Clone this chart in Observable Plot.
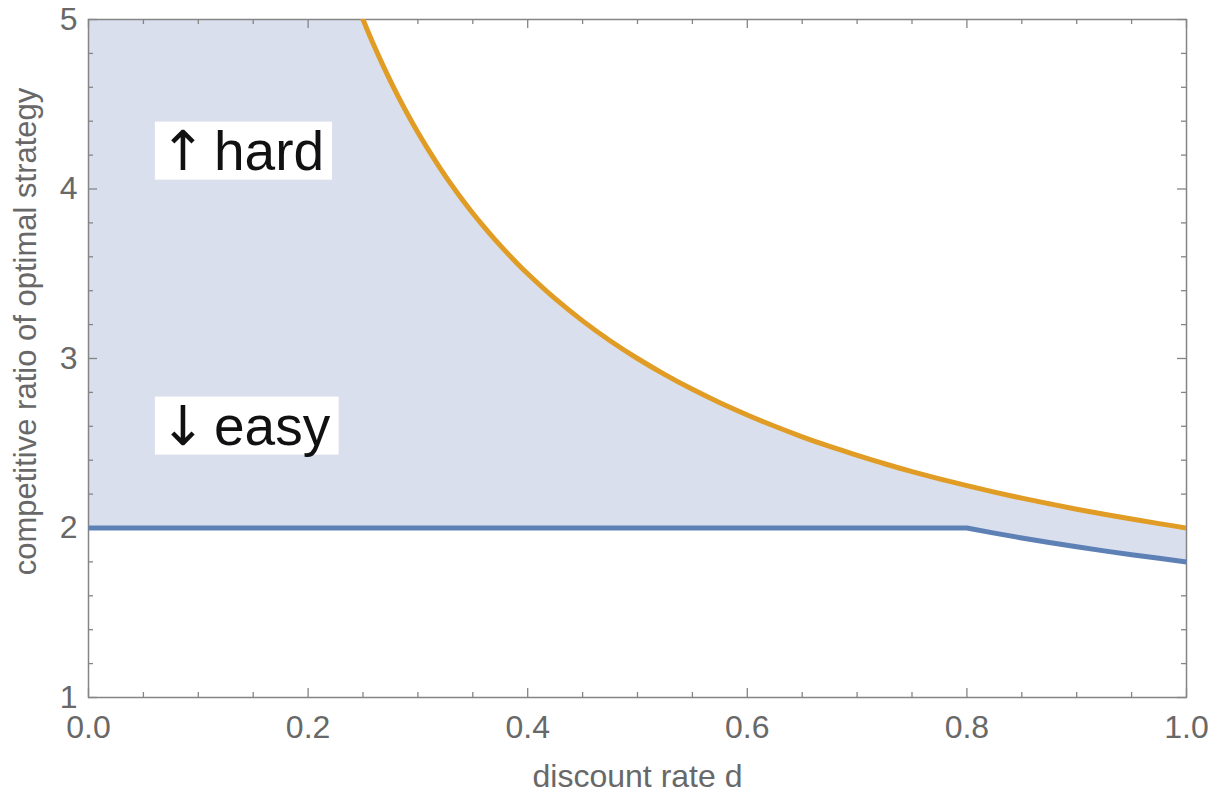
<!DOCTYPE html>
<html><head><meta charset="utf-8">
<script src="https://cdn.jsdelivr.net/npm/d3@7"></script>
<script src="https://cdn.jsdelivr.net/npm/@observablehq/plot@0.6"></script>
<style>body{margin:0;background:#fff}</style>
</head><body><div id="chart"></div>
<script>
// Upper curve (orange)
const orangeD = [0.25,0.26,0.27,0.28,0.29,0.30,0.31,0.32,0.33,0.34,0.35,0.36,0.37,0.38,0.39,0.40,
  0.425,0.45,0.475,0.50,0.525,0.55,0.575,0.60,0.625,0.65,0.675,0.70,0.725,0.75,0.775,0.80,
  0.825,0.85,0.875,0.90,0.925,0.95,0.975,1.00];
const orangeV = [5.000,4.846,4.704,4.571,4.448,4.333,4.226,4.125,4.030,3.941,3.857,3.778,3.703,3.632,3.564,3.500,
  3.353,3.222,3.105,3.000,2.905,2.818,2.739,2.667,2.600,2.538,2.481,2.429,2.379,2.333,2.290,2.250,
  2.212,2.176,2.143,2.111,2.081,2.053,2.026,2.000];
// Lower curve (blue)
const blueD = [0, 0.80, 0.825, 0.85, 0.875, 0.90, 0.925, 0.95, 0.975, 1.00];
const blueV = [2, 2.000, 1.970, 1.941, 1.914, 1.889, 1.865, 1.842, 1.821, 1.800];
// Shaded region top edge before the orange curve enters the frame
const fillLeftD = [0, 0.25];
const fillLeftV = [5, 5];
// Axes
const xDomain = [0, 1];
const yDomain = [1, 5];
const xMajor = [0, 0.2, 0.4, 0.6, 0.8, 1.0];
const xMinor = [0.05,0.10,0.15,0.25,0.30,0.35,0.45,0.50,0.55,0.65,0.70,0.75,0.85,0.90,0.95];
const yMajor = [1, 2, 3, 4, 5];
const yMinor = [1.2,1.4,1.6,1.8,2.2,2.4,2.6,2.8,3.2,3.4,3.6,3.8,4.2,4.4,4.6,4.8];
const xLabel = "discount rate d";
const yLabel = "competitive ratio of optimal strategy";
// Annotations
const noteText = ["↑hard", "↓easy"];
const noteD = [0.065, 0.065];
const noteV = [4.218, 2.596];

const orange = orangeD.map((d, i) => ({d, v: orangeV[i]}));
const blue = blueD.map((d, i) => ({d, v: blueV[i]}));
const fillTop = fillLeftD.map((d, i) => ({d, v: fillLeftV[i]})).concat(orange.slice(1));
const notes = noteText.map((t, i) => ({t, d: noteD[i], v: noteV[i]}));

const W = 1222, H = 801, mL = 88, mR = 36, mT = 19, mB = 104;
const pW = W - mL - mR, pH = H - mT - mB;
const gray = "#686868", frameC = "#858585";
const FONT = "'Liberation Sans', Arial, Helvetica, sans-serif";

const chart = Plot.plot({
  width: W, height: H,
  marginLeft: mL, marginRight: mR, marginTop: mT, marginBottom: mB,
  style: {fontFamily: FONT, background: "white"},
  x: {domain: xDomain},
  y: {domain: yDomain},
  marks: [
    Plot.areaY(fillTop, {x: "d", y1: yDomain[0], y2: "v", fill: "#dadfed", curve: "monotone-x", clip: true}),
    Plot.areaY(blue, {x: "d", y1: yDomain[0], y2: "v", fill: "white", clip: true}),
    Plot.frame({stroke: frameC, strokeWidth: 1.5}),
    // bottom ticks
    Plot.tickX(xMajor, {x: d => d, stroke: frameC, strokeWidth: 1.3, insetTop: pH - 9}),
    Plot.tickX(xMinor, {x: d => d, stroke: frameC, strokeWidth: 1.3, insetTop: pH - 5}),
    // top ticks
    Plot.tickX(xMajor, {x: d => d, stroke: frameC, strokeWidth: 1.3, insetBottom: pH - 9}),
    Plot.tickX(xMinor, {x: d => d, stroke: frameC, strokeWidth: 1.3, insetBottom: pH - 5}),
    // left ticks
    Plot.tickY(yMajor, {y: d => d, stroke: frameC, strokeWidth: 1.3, insetRight: pW - 9}),
    Plot.tickY(yMinor, {y: d => d, stroke: frameC, strokeWidth: 1.3, insetRight: pW - 5}),
    // right ticks
    Plot.tickY(yMajor, {y: d => d, stroke: frameC, strokeWidth: 1.3, insetLeft: pW - 9}),
    Plot.tickY(yMinor, {y: d => d, stroke: frameC, strokeWidth: 1.3, insetLeft: pW - 5}),
    Plot.axisX({ticks: xMajor, tickSize: 0, tickPadding: 18, tickFormat: d => d.toFixed(1), fontSize: 32, fill: gray, label: null}),
    Plot.axisY({ticks: yMajor, tickSize: 0, tickPadding: 11, tickFormat: d => String(d), fontSize: 32, fill: gray, label: null}),
    Plot.text([xLabel], {frameAnchor: "bottom", text: d => d, dy: 89, fontSize: 32, fill: gray}),
    Plot.text([yLabel], {frameAnchor: "left", text: d => d, rotate: -90, textAnchor: "middle", dx: -62, dy: -27, fontSize: 31, fill: gray}),
    Plot.line(blue, {x: "d", y: "v", stroke: "#5e81b5", strokeWidth: 5, strokeLinecap: "butt"}),
    Plot.line(orange, {x: "d", y: "v", stroke: "#e09c24", strokeWidth: 5, curve: "catmull-rom", clip: true}),
    Plot.text(notes, {x: "d", y: "v", text: "t", textAnchor: "start", lineAnchor: "middle", fontSize: 55, fill: "#111", className: "note"})
  ]
});
document.getElementById("chart").append(chart);

// arrow glyph in a wider font, then white boxes behind the annotations
const NS = "http://www.w3.org/2000/svg";
chart.querySelectorAll(".note text").forEach(t => {
  const s = t.textContent;
  t.textContent = "";
  const a = document.createElementNS(NS, "tspan");
  a.setAttribute("font-family", "'DejaVu Sans', sans-serif");
  a.textContent = s.slice(0, 1);
  const w = document.createElementNS(NS, "tspan");
  w.setAttribute("dx", "8");
  w.textContent = s.slice(1);
  t.append(a, w);
  const b = t.getBBox();
  const r = document.createElementNS(NS, "rect");
  r.setAttribute("x", b.x - 5);
  r.setAttribute("y", b.y + 3);
  r.setAttribute("width", b.width + 13);
  r.setAttribute("height", b.height - 6);
  r.setAttribute("fill", "white");
  if (t.getAttribute("transform")) r.setAttribute("transform", t.getAttribute("transform"));
  t.parentNode.insertBefore(r, t);
});
</script>
</body></html>
